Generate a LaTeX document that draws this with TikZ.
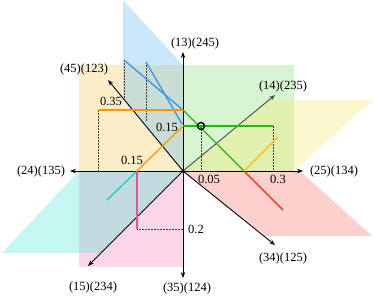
\documentclass[tikz,border=0pt]{standalone}
\usepackage{fontspec}
\setmainfont{Liberation Serif}
\usetikzlibrary{arrows.meta,positioning}

\definecolor{planeBlue}{RGB}{80,180,240}
\definecolor{planePeach}{RGB}{250,200,80}
\definecolor{planeGreen}{RGB}{120,220,100}
\definecolor{planeLemon}{RGB}{250,230,100}
\definecolor{planeRed}{RGB}{245,100,90}
\definecolor{planeCyan}{RGB}{60,230,210}
\definecolor{planePink}{RGB}{245,120,180}
\definecolor{lineBlue}{RGB}{50,150,230}
\definecolor{lineOrange}{RGB}{255,150,0}
\definecolor{lineGreen}{RGB}{40,180,20}
\definecolor{lineRed}{RGB}{240,40,20}
\definecolor{lineGold}{RGB}{255,190,0}
\definecolor{lineCyan}{RGB}{20,210,200}
\definecolor{linePink}{RGB}{230,80,160}

\begin{document}
\begin{tikzpicture}[x=1pt, y=-1pt,
    % Define styles
    axis/.style={-{Stealth[length=6pt,width=4.5pt]}, line width=0.9pt, black},
    plane/.style={draw=none, fill opacity=0.3},
    route/.style={line width=1.3pt},
    guide/.style={densely dotted, line width=0.5pt, black!75},
    lbl/.style={font=\fontsize{12.5}{14}\selectfont, inner sep=0pt}
]
\useasboundingbox (0,0) rectangle (375,299);

% Origin and axis tips
\coordinate (O) at (183,171);
\coordinate (up) at (183,52);
\coordinate (down) at (183,278);
\coordinate (left) at (70,171);
\coordinate (right) at (303,171);
\coordinate (ul) at (108,80);
\coordinate (ll) at (88,266);
\coordinate (lr) at (275,245);
\coordinate (ur) at (275,95);

% Planes
\fill[plane, fill=planePeach] (79,65) rectangle (O);
\fill[plane, fill=planeGreen] (183,65) rectangle (294,171);
\fill[plane, fill=planePink] (79,171) rectangle (183,267);
\fill[plane, fill=planeBlue] (123,0) -- (183,65) -- (O) -- (123,98) -- cycle;
\fill[plane, fill=planeLemon] (O) -- (268,100) -- (373,100) -- (294,171) -- cycle;
\fill[plane, fill=planeRed] (O) -- (300,171) -- (372,236) -- (265,236) -- cycle;
\fill[plane, fill=planeCyan] (79,171) -- (2,253) -- (101,253) -- (O) -- cycle;

% Points of the routes
\coordinate (a35) at (98,110);
\coordinate (b35) at (183,110);
\coordinate (b15) at (183,126);
\coordinate (c15) at (137,171);
\coordinate (cyanEnd) at (107,200);
\coordinate (pinkEnd) at (137,229);
\coordinate (pinkAxis) at (183,229);
\coordinate (meet) at (244,171);
\coordinate (redEnd) at (283,210);
\coordinate (goldEnd) at (278,137);
\coordinate (g30) at (273,126);
\coordinate (g30axis) at (273,171);
\coordinate (g05axis) at (201,171);
\coordinate (blueA) at (124,60);
\coordinate (blueAend) at (124,98);
\coordinate (blueB) at (146,62);
\coordinate (blueBend) at (146,122);
\coordinate (blueBtip) at (182,124);
\coordinate (a35axis) at (98,171);

% Dotted guides
\draw[guide] (a35) -- (a35axis);
\draw[guide] (blueA) -- (blueAend);
\draw[guide] (blueB) -- (blueBend);
\draw[guide] (g30) -- (g30axis);
\draw[guide] (201,126) -- (g05axis);
\draw[guide] (pinkEnd) -- (pinkAxis);

% Axes
\draw[axis] (O) -- (up);
\draw[axis] (O) -- (down);
\draw[axis] (O) -- (left);
\draw[axis] (O) -- (right);
\draw[axis] (O) -- (ul);
\draw[axis] (O) -- (ll);
\draw[axis] (O) -- (lr);
\draw[axis, black!70] (O) -- (ur);
\fill (O) circle (1.6);

% Routes
\draw[route, lineBlue] (blueA) -- (b35);
\draw[route, lineBlue] (blueB) -- (blueBtip);
\draw[route, lineOrange] (a35) -- (b35);
\draw[route, lineOrange] (b15) -- (c15);
\draw[route, lineGreen] (b35) -- (meet);
\draw[route, lineGreen] (b15) -- (g30);
\draw[route, lineRed] (meet) -- (redEnd);
\draw[route, lineGold] (meet) -- (goldEnd);
\draw[route, lineCyan] (c15) -- (cyanEnd);
\draw[route, linePink] (c15) -- (pinkEnd);
\node[draw, circle, line width=1.4pt, minimum size=7pt, inner sep=0pt] (pt) at (201,126) {};

% Axis labels
\node[lbl] (lblUp) at (195,43) {(13)(245)};
\node[lbl] (lblDown) at (187,288) {(35)(124)};
\node[lbl] (lblLeft) at (41,171) {(24)(135)};
\node[lbl] (lblRight) at (334,171) {(25)(134)};
\node[lbl] (lblUL) at (84,69) {(45)(123)};
\node[lbl] (lblLL) at (93,287) {(15)(234)};
\node[lbl] (lblLR) at (283,258) {(34)(125)};
\node[lbl] (lblUR) at (283,86) {(14)(235)};

% Value labels
\node[lbl] (v35) at (111,101) {0.35};
\node[lbl] (v15a) at (167,127) {0.15};
\node[lbl] (v15b) at (132,160) {0.15};
\node[lbl] (v05) at (209,179) {0.05};
\node[lbl] (v30) at (278,179) {0.3};
\node[lbl] (v20) at (196,229) {0.2};

\end{tikzpicture}
\end{document}
